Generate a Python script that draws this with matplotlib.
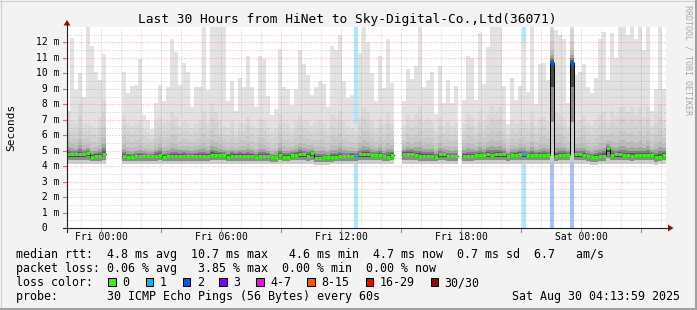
import numpy as np
import matplotlib
matplotlib.use("Agg")
import matplotlib.pyplot as plt
from matplotlib.transforms import blended_transform_factory
from matplotlib.patches import Polygon, Rectangle
from matplotlib.lines import Line2D

W, H = 697, 310
MONO = "DejaVu Sans Mono"

# time axis: hours relative to Fri 00:00, one smoke column = 12 minutes
t_start = -1.767
t_step = 0.2
nan = np.nan

# top of the lightest smoke (ms)
rtt_max = [
    7.6, 12.3, 8.9, 10.0, 8.5, 13.5, 11.8, 10.1, 9.6, 11.25,
    nan, nan, nan, nan, 10.1, 8.75, 9.2, 9.25, 10.9, 7.3,
    7.0, 6.4, 8.1, 9.25, 8.2, 9.15, 12.2, 11.4, 9.25, 10.65,
    10.1, 7.85, 9.15, 9.15, 13.5, 8.9, 13.5, 13.5, 13.5, 13.5,
    8.2, 9.5, 7.6, 9.7, 9.15, 11.1, 9.15, 7.85, 11.1, 10.9,
    8.55, 7.3, 7.7, 11.6, 9.1, 9.0, 7.95, 9.0, 11.5, 10.6,
    9.9, 8.6, 9.15, 9.5, 9.3, 7.85, 11.8, 11.5, 12.5, 9.5,
    8.4, 8.6, 6.7, 11.3, 13.5, 12.05, 10.0, 8.2, 11.1, 9.05,
    12.2, 9.4, nan, nan, 8.2, 10.3, 9.65, 10.5, 13.5, 9.15,
    9.6, 10.1, 7.35, 10.5, 8.1, 9.6, 8.1, 9.2, nan, 8.3,
    11.1, 11.0, 8.3, 12.6, 9.3, 11.7, 13.5, 13.5, 13.5, 9.2,
    6.7, 9.7, 8.3, 9.2, 12.0, 8.8, 13.5, 8.0, 10.6, 10.7,
    9.6, 13.5, 12.8, 12.5, 12.2, 8.1, 13.5, 9.9, 10.1, 10.6,
    9.15, 8.7, 9.7, 12.2, 12.7, 9.6, 12.6, 11.0, 13.5, 13.5,
    12.5, 13.5, 12.2, 13.5, 11.5, 13.5, 7.6, 9.0, 13.5, 9.0,
]

# top of the denser (mid grey) smoke
rtt_upper = [
    7.6, 6.9, 6.8, 8.1, 6.7, 6.8, 6.6, 6.5, 7.2, 8.3,
    nan, nan, nan, nan, 7.3, 6.8, 6.6, 6.7, 7.0, 6.4,
    6.2, 6.0, 6.9, 7.1, 6.8, 6.9, 7.5, 7.2, 6.6, 6.9,
    6.8, 6.5, 6.7, 7.0, 7.6, 6.8, 8.0, 7.5, 7.0, 6.6,
    6.5, 6.9, 6.3, 6.8, 6.7, 7.2, 6.6, 6.4, 7.1, 6.9,
    6.5, 6.2, 6.4, 7.4, 6.8, 6.7, 6.4, 6.9, 7.3, 7.0,
    6.9, 6.6, 6.8, 7.0, 6.8, 6.4, 7.3, 7.1, 7.6, 6.9,
    6.6, 6.5, 6.3, 7.2, 7.8, 7.5, 6.9, 6.5, 7.1, 6.7,
    7.5, 6.8, nan, nan, 6.6, 7.3, 7.0, 7.4, 7.9, 6.9,
    7.1, 7.0, 6.3, 7.2, 6.6, 6.9, 6.6, 6.8, nan, 6.7,
    7.3, 7.2, 6.6, 7.6, 6.9, 7.4, 7.9, 7.6, 7.8, 6.9,
    6.1, 7.0, 6.7, 6.9, 7.0, 6.7, 7.6, 6.6, 7.1, 7.2,
    6.9, 13.5, 7.5, 7.4, 7.2, 6.6, 13.5, 6.9, 7.0, 7.3,
    6.8, 6.6, 7.0, 7.4, 7.5, 6.9, 7.6, 7.2, 7.8, 7.9,
    7.5, 7.8, 7.3, 7.8, 7.2, 7.9, 6.6, 7.4, 8.0, 7.0,
]

rtt_median = [
    4.76, 4.76, 4.77, 4.76, 4.76, 4.82, 4.60, 4.68, 4.63, 4.80,
    nan, nan, nan, nan, 4.63, 4.58, 4.58, 4.64, 4.64, 4.66,
    4.66, 4.68, 4.66, 4.72, 4.58, 4.64, 4.64, 4.66, 4.68, 4.66,
    4.64, 4.66, 4.68, 4.66, 4.64, 4.66, 4.72, 4.72, 4.72, 4.72,
    4.62, 4.66, 4.68, 4.68, 4.68, 4.68, 4.68, 4.58, 4.68, 4.68,
    4.68, 4.57, 4.57, 4.70, 4.62, 4.62, 4.72, 4.72, 4.76, 4.76,
    4.68, 4.82, 4.55, 4.55, 4.57, 4.57, 4.57, 4.62, 4.64, 4.64,
    4.64, 4.68, 4.66, 4.76, 4.76, 4.76, 4.70, 4.72, 4.72, 4.64,
    4.60, 4.72, nan, nan, 4.80, 4.80, 4.80, 4.74, 4.68, 4.68,
    4.68, 4.68, 4.60, 4.76, 4.76, 4.64, 4.64, 4.64, nan, 4.68,
    4.68, 4.68, 4.72, 4.72, 4.70, 4.76, 4.72, 4.76, 4.76, 4.76,
    4.64, 4.70, 4.74, 4.80, 4.76, 4.70, 4.70, 4.70, 4.70, 4.70,
    4.70, 10.7, 4.64, 4.72, 4.70, 4.70, 10.7, 4.76, 4.76, 4.70,
    4.64, 4.58, 4.58, 4.64, 4.68, 5.15, 4.74, 4.76, 4.76, 4.70,
    4.70, 4.68, 4.70, 4.70, 4.70, 4.70, 4.70, 4.59, 4.62, 4.74,
]

# bottom of the smoke
rtt_low = [
    4.15, 4.15, 4.15, 4.15, 4.15, 4.15, 4.12, 4.12, 4.15, 4.15,
    nan, nan, nan, nan, 4.12, 4.12, 4.12, 4.12, 4.12, 4.15,
    4.15, 4.15, 4.15, 4.15, 4.12, 4.12, 4.15, 4.15, 4.15, 4.15,
    4.12, 4.15, 4.15, 4.15, 4.12, 4.15, 4.15, 4.15, 4.15, 4.15,
    4.12, 4.12, 4.15, 4.15, 4.15, 4.15, 4.15, 4.12, 4.15, 4.15,
    4.15, 4.12, 4.12, 4.15, 4.12, 4.12, 4.15, 4.15, 4.15, 4.15,
    4.15, 4.15, 4.10, 4.10, 4.10, 4.10, 4.12, 4.12, 4.12, 4.12,
    4.15, 4.15, 4.15, 4.15, 4.15, 4.15, 4.15, 4.15, 4.15, 4.12,
    4.12, 4.15, nan, nan, 4.15, 4.15, 4.15, 4.15, 4.15, 4.15,
    4.15, 4.15, 4.12, 4.15, 4.15, 4.12, 4.12, 4.12, nan, 4.15,
    4.15, 4.15, 4.15, 4.15, 4.15, 4.15, 4.15, 4.15, 4.15, 4.15,
    4.12, 4.15, 4.15, 4.15, 4.15, 4.15, 4.15, 4.15, 4.15, 4.15,
    4.15, 4.30, 4.12, 4.15, 4.15, 4.15, 4.30, 4.15, 4.15, 4.15,
    4.12, 4.10, 4.10, 4.12, 4.15, 4.15, 4.15, 4.15, 4.15, 4.15,
    4.15, 4.15, 4.15, 4.15, 4.15, 4.15, 4.15, 4.10, 4.12, 4.15,
]

# columns where pings were lost, and how many of 30
loss_cols = [72, 114, 121, 126]
loss_count = [1, 1, 2, 2]

loss_labels = ["0", "1", "2", "3", "4-7", "8-15", "16-29", "30/30"]
loss_colors = ["#26ff00", "#00b8ff", "#0059ff", "#7e00ff",
               "#ff00ff", "#ff5500", "#ff0000", "#a10000"]
loss_bar_colors = {1: "#aee6fb", 2: "#a8c2f7"}

title = "Last 30 Hours from HiNet to Sky-Digital-Co.,Ltd(36071)"
x_ticks = [0, 6, 12, 18, 24]
x_tick_labels = ["Fri 00:00", "Fri 06:00", "Fri 12:00", "Fri 18:00", "Sat 00:00"]
legend_lines = [
    "median rtt:  4.8 ms avg  10.7 ms max   4.6 ms min  4.7 ms now  0.7 ms sd  6.7   am/s",
    "packet loss: 0.06 % avg   3.85 % max  0.00 % min  0.00 % now",
]
probe_text = "probe:       30 ICMP Echo Pings (56 Bytes) every 60s"
stamp = "Sat Aug 30 04:13:59 2025"


def fx(px):
    return px / W


def fy(py):
    return 1 - py / H


rtt_max = np.array(rtt_max)
rtt_upper = np.array(rtt_upper)
rtt_median = np.array(rtt_median)
rtt_low = np.array(rtt_low)
n = len(rtt_median)
edges = t_start + t_step * np.arange(n + 1)
left = edges[:-1]

fig = plt.figure(figsize=(W / 100, H / 100), dpi=100)
fig.patch.set_facecolor("#f3f3f3")

# plot canvas: x 67..666 px, y 27..228 px
ax = fig.add_axes([fx(67), fy(228), 599 / W, 201 / H])
ax.set_facecolor("white")
ax.set_xlim(-1.7, 28.25)
ax.set_ylim(0, 201 / 15.46)
for s in ax.spines.values():
    s.set_visible(False)
ax.set_xticks([])
ax.set_yticks([])

# loss bars behind everything
for c, k in zip(loss_cols, loss_count):
    ax.axvspan(edges[c], edges[c + 1], color=loss_bar_colors[k], lw=0, zorder=1)

# smoke: outermost layer first, inner (darker) layers drawn over it
def band(bottom, top, color, z):
    ax.bar(left, top - bottom, width=t_step, bottom=bottom, align="edge",
           color=color, linewidth=0, antialiased=False, zorder=z)

band(rtt_low, rtt_max, "#e2e2e2", 2)
up_frac = [1.0, 0.75, 0.5, 0.3, 0.18, 0.1, 0.05]
up_gray = ["#d9d9d9", "#d2d2d2", "#c9c9c9", "#bcbcbc", "#a4a4a4", "#808080", "#585858"]
for f, g in zip(up_frac, up_gray):
    band(rtt_median, rtt_median + f * (rtt_upper - rtt_median), g, 3)
lo_frac = [1.0, 0.6, 0.25]
lo_gray = ["#cccccc", "#8c8c8c", "#484848"]
for f, g in zip(lo_frac, lo_gray):
    band(rtt_median - f * (rtt_median - rtt_low), rtt_median, g, 3)

# grid, drawn over the smoke
for h in range(-1, 29):
    major = h % 3 == 0
    ax.axvline(h, color=(1, 0.25, 0.25, 0.45) if major else (0.55, 0.55, 0.55, 0.45),
               lw=0.72, ls=(0, (1, 2)), zorder=4)
for v in np.arange(0.5, 13.0, 0.5):
    major = float(v).is_integer()
    ax.axhline(v, color=(1, 0.25, 0.25, 0.45) if major else (0.55, 0.55, 0.55, 0.45),
               lw=0.72, ls=(0, (1, 2)), zorder=4)

# median line
ax.step(edges, np.append(rtt_median, rtt_median[-1]), where="post",
        color="black", lw=0.7, zorder=5)
seg_colors = [loss_colors[0]] * n
for c, k in zip(loss_cols, loss_count):
    seg_colors[c] = loss_colors[k]
ax.hlines(rtt_median, left, edges[1:], colors=seg_colors, lw=2.2, zorder=6)

# axes lines, ticks and arrows (figure pixel coordinates)
def fig_line(xs, ys, color, lw=0.8):
    fig.add_artist(Line2D([fx(x) for x in xs], [fy(y) for y in ys], color=color, lw=lw))

fig_line([63, 668], [228, 228], "#202020")
fig_line([67, 67], [232, 24], "#202020")
fig.add_artist(Polygon([(fx(668), fy(224.5)), (fx(668), fy(231.5)), (fx(673.5), fy(228))],
                       closed=True, color="#8b1010", lw=0))
fig.add_artist(Polygon([(fx(63.5), fy(25.5)), (fx(70.5), fy(25.5)), (fx(67), fy(20))],
                       closed=True, color="#8b1010", lw=0))
xpix = blended_transform_factory(ax.transData, fig.transFigure)
for h in range(0, 28, 3):
    ax.plot([h, h], [fy(228), fy(231.5)], transform=xpix, color="#e07070",
            lw=0.8, clip_on=False, zorder=7)
ypix = blended_transform_factory(fig.transFigure, ax.transData)
for v in range(0, 13):
    ax.plot([fx(63), fx(67)], [v, v], transform=ypix, color="#e07070",
            lw=0.8, clip_on=False, zorder=7)

# tick labels
for v in range(0, 13):
    lab = " 0" if v == 0 else "%2d m" % v
    ax.text(fx(36), v, lab, transform=ypix, ha="left", va="center",
            fontsize=7, family=MONO)
for t, lab in zip(x_ticks, x_tick_labels):
    ax.text(t, fy(237), lab, transform=xpix, ha="center", va="center",
            fontsize=7, family=MONO)

# texts
fig.text(fx(347.5), fy(19.5), title, ha="center", va="center", fontsize=9.3, family=MONO)
fig.text(fx(11), fy(127.5), "Seconds", rotation=90, ha="center", va="center",
         fontsize=8, family=MONO)
fig.text(fx(688), fy(60), "RRDTOOL / TOBI OETIKER", rotation=270, ha="center",
         va="center", fontsize=6, family=MONO, color="#a8a8a8")

for i, line in enumerate(legend_lines):
    fig.text(fx(16), fy(254.5 + 14 * i), line, ha="left", va="center",
             fontsize=8.4, family=MONO)
fig.text(fx(16), fy(282.5), "loss color:", ha="left", va="center", fontsize=8.4, family=MONO)
swatch_x = [108.3, 145.7, 182.7, 219.3, 256.0, 307.3, 365.7, 430.7]
for sx, col, lab in zip(swatch_x, loss_colors, loss_labels):
    fig.add_artist(Rectangle((fx(sx), fy(286)), 7.5 / W, 8 / H, facecolor=col,
                             edgecolor="black", lw=0.75))
    fig.text(fx(sx + 14), fy(282.5), lab, ha="left", va="center", fontsize=8.4, family=MONO)
fig.text(fx(16), fy(296.5), probe_text, ha="left", va="center", fontsize=8.4, family=MONO)
fig.text(fx(680), fy(296.5), stamp, ha="right", va="center", fontsize=8.4, family=MONO)

# frame
fig_line([0.5, 0.5], [0, H], "#d0d0d0", 0.8)
fig_line([0, W], [0.5, 0.5], "#d0d0d0", 0.8)
fig_line([W - 1, W - 1], [0, H], "#a0a0a0", 1.5)
fig_line([0, W], [H - 1, H - 1], "#a0a0a0", 1.5)

fig.savefig("out.png", dpi=100, facecolor=fig.get_facecolor())
